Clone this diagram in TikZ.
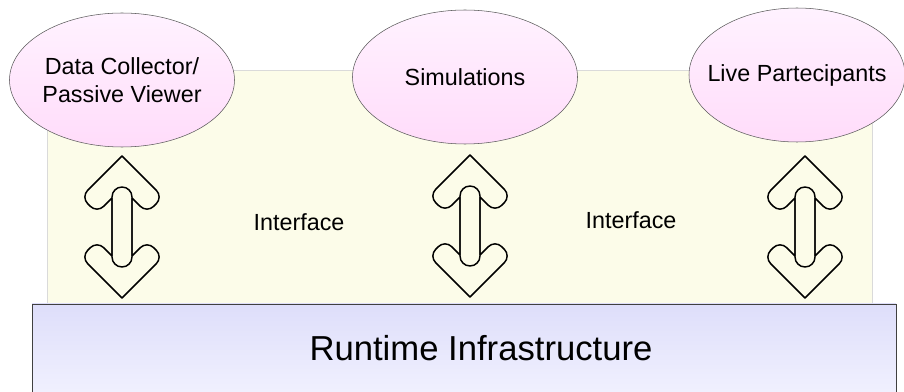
\documentclass[tikz,border=0pt]{standalone}
\usepackage{fontspec}
\setmainfont{Liberation Sans}
\usepackage{xcolor}
\definecolor{panelbg}{HTML}{FCFCE9}
\definecolor{panelrule}{HTML}{DADADA}
\definecolor{bubbletop}{HTML}{FFF2FF}
\definecolor{bubblebot}{HTML}{FFDCFA}
\definecolor{rtitop}{HTML}{DEDEFA}
\definecolor{rtibot}{HTML}{F2F2FF}
\usetikzlibrary{positioning,shapes.geometric}

\tikzset{
	bubble/.style={ellipse, draw=black!65, top color=bubbletop, bottom color=bubblebot,
		minimum width=168.75pt, minimum height=100.5pt, inner xsep=-90pt, inner ysep=-40pt,
		align=center, font=\fontsize{17.5}{21}\selectfont},
	updown/.style={draw=black, line width=1.1pt, line join=round},
	iface/.style={font=\fontsize{17.5}{21}\selectfont},
}

\begin{document}
\begin{tikzpicture}[x=0.75pt, y=-0.75pt]
		\useasboundingbox (0,0) rectangle (904,392);

		% interface panel
		\node[draw=panelrule, fill=panelbg, minimum width=618.75pt, minimum height=174.75pt, inner sep=0pt] (panel) at (459.5,186.5) {};

		% federates
		\node[bubble] (collector) at (122,80) {Data Collector/\\Passive Viewer};
		\node[bubble] (sims) at (465,77) {Simulations};
		\node[bubble, minimum width=162pt] (live) at (797,75) {Live Partecipants};

		\node[iface] (ifaceA) at (299,222) {Interface};
		\node[iface] (ifaceB) at (631,220) {Interface};

		% double arrows
		\coordinate (arrA) at (122,227);
		\coordinate (arrB) at (470,226);
		\coordinate (arrC) at (805,227);
		\foreach \a in {arrA,arrB,arrC} {
			\draw[updown, shift={(\a)}] (0,-71) [rounded corners=7pt] -- (-41,-30) -- (-25,-14) [sharp corners] -- (-10,-29)
				-- (-10,29) [rounded corners=7pt] -- (-25,14) -- (-41,30) [sharp corners] -- (0,71)
				[rounded corners=7pt] -- (41,30) -- (25,14) [sharp corners] -- (10,29)
				-- (10,-29) [rounded corners=7pt] -- (25,-14) -- (41,-30) [sharp corners] -- cycle;
			\draw[updown, shift={(\a)}, rounded corners=7.5pt] (-10,-40) rectangle (10,40);
		}

		% runtime layer
		\node[draw=black!75, top color=rtitop, bottom color=rtibot, minimum width=648pt, minimum height=72pt, inner sep=0pt] (rti) at (464,352) {};
		\node[font=\fontsize{26}{31}\selectfont] (rtitext) at (481,348) {Runtime Infrastructure};
	\end{tikzpicture}
\end{document}
